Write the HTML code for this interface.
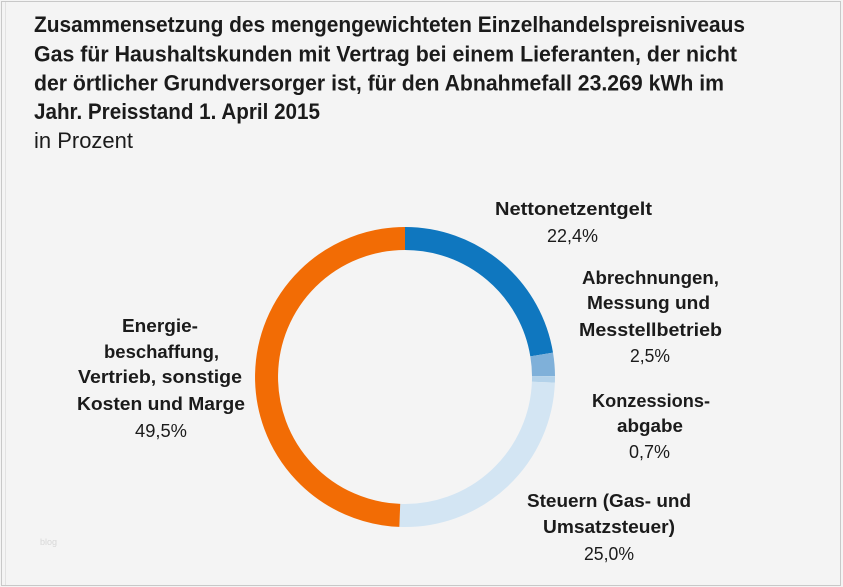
<!DOCTYPE html>
<html>
<head>
<meta charset="utf-8">
<style>
  html, body { margin:0; padding:0; background:#f4f4f4; }
  svg { display:block; }
  text { font-family: "Liberation Sans", "DejaVu Sans", sans-serif; fill:#1b1b1b; }
  .t { font-size:22px; font-weight:bold; }
  .s { font-size:22px; }
  .b { font-size:18px; font-weight:bold; }
  .r { font-size:18px; }
</style>
</head>
<body>
<svg width="843" height="587" viewBox="0 0 843 587" xmlns="http://www.w3.org/2000/svg">
  <rect x="0" y="0" width="843" height="587" fill="#f4f4f4"/>
  <rect x="1.5" y="1.5" width="839" height="584" fill="none" stroke="#c8c8c8" stroke-width="1"/>
  <line x1="5.5" y1="2" x2="5.5" y2="585" stroke="#e2e2e2" stroke-width="1"/>

  <!-- Title -->
  <text class="t" x="34" y="32" textLength="711" lengthAdjust="spacingAndGlyphs">Zusammensetzung des mengengewichteten Einzelhandelspreisniveaus</text>
  <text class="t" x="34" y="61.5" textLength="703" lengthAdjust="spacingAndGlyphs">Gas für Haushaltskunden mit Vertrag  bei einem Lieferanten, der nicht</text>
  <text class="t" x="34" y="90.5" textLength="690" lengthAdjust="spacingAndGlyphs">der örtlicher Grundversorger ist, für den Abnahmefall 23.269  kWh im</text>
  <text class="t" x="34" y="119" textLength="286" lengthAdjust="spacingAndGlyphs">Jahr. Preisstand 1. April 2015</text>
  <text class="s" x="34" y="148" textLength="99" lengthAdjust="spacingAndGlyphs">in Prozent</text>

  <!-- Donut -->
  <g fill="none" stroke-width="23" stroke-linecap="butt">
    <path d="M405,238.5 A138.5,138.5 0 0 1 541.66,354.48" stroke="#0f77bf"/>
    <path d="M541.66,354.48 A138.5,138.5 0 0 1 543.50,376.13" stroke="#7fb0d9"/>
    <path d="M543.50,376.13 A138.5,138.5 0 0 1 543.40,382.22" stroke="#b3d2ea"/>
    <path d="M543.40,382.22 A138.5,138.5 0 0 1 399.78,515.40" stroke="#d3e5f3"/>
    <path d="M399.78,515.40 A138.5,138.5 0 0 1 405,238.5" stroke="#f26c05"/>
  </g>

  <!-- Right labels -->
  <text class="b" x="495" y="215" textLength="157" lengthAdjust="spacingAndGlyphs">Nettonetzentgelt</text>
  <text class="r" x="547" y="242" textLength="51" lengthAdjust="spacingAndGlyphs">22,4%</text>

  <text class="b" x="582" y="284" textLength="137" lengthAdjust="spacingAndGlyphs">Abrechnungen,</text>
  <text class="b" x="587" y="309" textLength="123" lengthAdjust="spacingAndGlyphs">Messung und</text>
  <text class="b" x="579" y="336" textLength="143" lengthAdjust="spacingAndGlyphs">Messtellbetrieb</text>
  <text class="r" x="630" y="362" textLength="40" lengthAdjust="spacingAndGlyphs">2,5%</text>

  <text class="b" x="592" y="407" textLength="118" lengthAdjust="spacingAndGlyphs">Konzessions-</text>
  <text class="b" x="617" y="432" textLength="66" lengthAdjust="spacingAndGlyphs">abgabe</text>
  <text class="r" x="629" y="458" textLength="41" lengthAdjust="spacingAndGlyphs">0,7%</text>

  <text class="b" x="527" y="507" textLength="164" lengthAdjust="spacingAndGlyphs">Steuern (Gas- und</text>
  <text class="b" x="543" y="533" textLength="132" lengthAdjust="spacingAndGlyphs">Umsatzsteuer)</text>
  <text class="r" x="584" y="560" textLength="50" lengthAdjust="spacingAndGlyphs">25,0%</text>

  <!-- Left label -->
  <text class="b" x="122" y="332" textLength="76" lengthAdjust="spacingAndGlyphs">Energie-</text>
  <text class="b" x="104" y="358" textLength="115" lengthAdjust="spacingAndGlyphs">beschaffung,</text>
  <text class="b" x="78" y="383" textLength="164" lengthAdjust="spacingAndGlyphs">Vertrieb, sonstige</text>
  <text class="b" x="77" y="410" textLength="168" lengthAdjust="spacingAndGlyphs">Kosten und Marge</text>
  <text class="r" x="135" y="437" textLength="52" lengthAdjust="spacingAndGlyphs">49,5%</text>

  <!-- faint watermark -->
  <text x="40" y="545" style="font-size:9px; fill:#d8d8d8;">blog</text>
</svg>
</body>
</html>
